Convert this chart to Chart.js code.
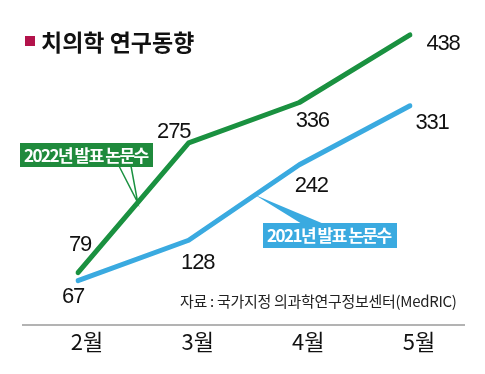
<!DOCTYPE html>
<html>
<head>
<meta charset="utf-8">
<script src="https://cdn.jsdelivr.net/npm/chart.js@4/dist/chart.umd.min.js"></script>
<style>
  body { margin: 0; background: #fff; }
  canvas { display: block; }
</style>
</head>
<body>
<canvas id="myChart" width="485" height="374"></canvas>
<script>
// chart data
const months = ['2월', '3월', '4월', '5월'];
const papers2022 = [79, 275, 336, 438];
const papers2021 = [67, 128, 242, 331];

const titleText = '치의학 연구동향';
const sourceText = '자료 : 국가지정 의과학연구정보센터(MedRIC)';
const label2022 = '2022년 발표 논문수';
const label2021 = '2021년 발표 논문수';

const green = '#1a9140';
const blue = '#3aaae0';

// where each number sits relative to its point
const offs2022 = [[2, -28], [-15, -11], [13, 18], [33, 9]];
const offs2021 = [[-5, 16], [9, 23], [12, 21], [22, 17]];

const numFont = '22px "Liberation Sans", Arial, sans-serif';
const krFont = '"Noto Sans CJK KR", "Noto Sans", sans-serif';

function textAt(ctx, txt, x, y, spacing) {
    ctx.letterSpacing = spacing + 'px';
    ctx.fillText(txt, x, y);
    ctx.letterSpacing = '0px';
}

const decoPlugin = {
    id: 'deco',
    beforeDatasetsDraw(chart) {
        const ctx = chart.ctx;
        const g = chart.getDatasetMeta(0).data;
        const b = chart.getDatasetMeta(1).data;
        ctx.save();

        // axis line at zero
        const y0 = chart.scales.y.getPixelForValue(0);
        ctx.strokeStyle = '#9a9a9a';
        ctx.lineWidth = 1.5;
        ctx.beginPath();
        ctx.moveTo(22, y0);
        ctx.lineTo(465, y0);
        ctx.stroke();

        // title
        ctx.fillStyle = '#b3134b';
        ctx.fillRect(25, 36, 10, 10);
        ctx.fillStyle = '#111';
        ctx.font = 'bold 23px ' + krFont;
        ctx.textBaseline = 'middle';
        ctx.textAlign = 'left';
        ctx.fillText(titleText, 41, 42);

        // source
        ctx.font = '15px ' + krFont;
        ctx.fillStyle = '#222';
        textAt(ctx, sourceText, 180, 301, -0.3);

        // 2022 callout
        let t = 0.54;
        let ax = g[0].x + (g[1].x - g[0].x) * t;
        let ay = g[0].y + (g[1].y - g[0].y) * t;
        ctx.beginPath();
        ctx.moveTo(119, 166);
        ctx.lineTo(ax, ay);
        ctx.lineTo(131, 166);
        ctx.closePath();
        ctx.fillStyle = '#fff';
        ctx.fill();
        ctx.strokeStyle = green;
        ctx.lineWidth = 1.5;
        ctx.stroke();
        ctx.fillStyle = '#1f8a3c';
        ctx.fillRect(20, 143, 133, 24);
        ctx.fillStyle = '#fff';
        ctx.font = 'bold 17px ' + krFont;
        textAt(ctx, label2022, 24, 155.5, -1.5);

        // 2021 callout
        t = 0.6;
        ax = b[1].x + (b[2].x - b[1].x) * t;
        ay = b[1].y + (b[2].y - b[1].y) * t;
        ctx.beginPath();
        ctx.moveTo(ax, ay);
        ctx.lineTo(324, 224);
        ctx.lineTo(302, 224);
        ctx.closePath();
        ctx.fillStyle = blue;
        ctx.fill();
        ctx.fillRect(263, 223, 134, 25);
        ctx.fillStyle = '#fff';
        textAt(ctx, label2021, 267, 236, -1.5);

        ctx.restore();
    },
    afterDatasetsDraw(chart) {
        const ctx = chart.ctx;
        ctx.save();
        ctx.font = numFont;
        ctx.fillStyle = '#111';
        ctx.textAlign = 'center';
        ctx.textBaseline = 'middle';
        [[0, papers2022, offs2022], [1, papers2021, offs2021]].forEach(([i, vals, offs]) => {
            chart.getDatasetMeta(i).data.forEach((pt, j) => {
                textAt(ctx, String(vals[j]), pt.x + offs[j][0], pt.y + offs[j][1], -1.2);
            });
        });
        ctx.restore();
    }
};

let myChart = new Chart(document.getElementById('myChart').getContext('2d'), {
    type: 'line',
    data: {
        labels: months,
        datasets: [{
            label: label2022,
            data: papers2022,
            borderColor: green,
            borderWidth: 5,
            borderCapStyle: 'round',
            borderJoinStyle: 'round',
            pointRadius: 0,
            tension: 0
        }, {
            label: label2021,
            data: papers2021,
            borderColor: blue,
            borderWidth: 5,
            borderCapStyle: 'round',
            borderJoinStyle: 'round',
            pointRadius: 0,
            tension: 0
        }]
    },
    options: {
        responsive: false,
        animation: false,
        layout: { padding: { left: 78, right: 75, top: 27, bottom: 13 } },
        plugins: { legend: { display: false }, tooltip: { enabled: false } },
        scales: {
            x: {
                grid: { display: false, drawTicks: false },
                border: { display: false },
                afterFit(scale) { scale.height = 36; },
                ticks: {
                    color: '#111',
                    font: { size: 22, family: '"Noto Sans CJK KR", sans-serif' },
                    padding: 3,
                    labelOffset: 9,
                    maxRotation: 0,
                    autoSkip: false
                }
            },
            y: { display: false, min: 0, max: 450 }
        }
    },
    plugins: [decoPlugin]
});
</script>
</body>
</html>
